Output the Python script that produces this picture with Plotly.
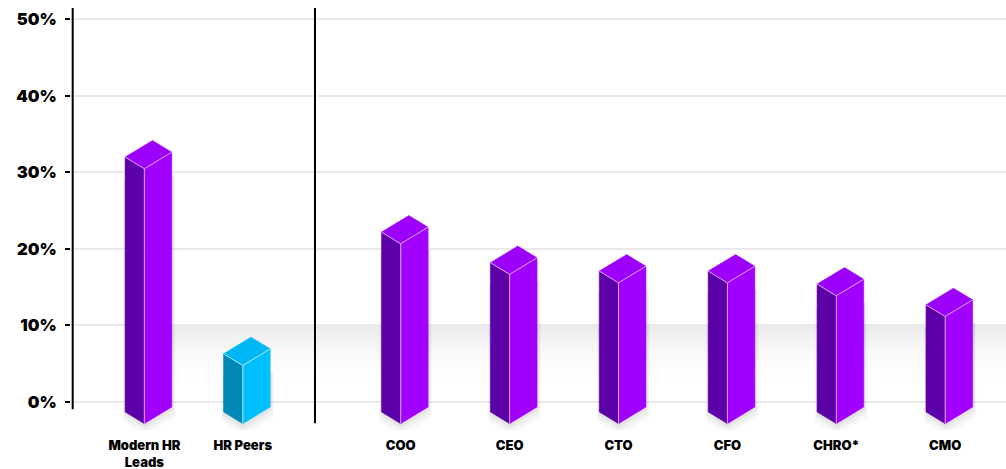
import plotly.graph_objects as go

# ---------------- data ----------------
categories = ["Modern HR<br>Leads", "HR Peers", "COO", "CEO", "CTO", "CFO", "CHRO*", "CMO"]
values = [32.0, 6.3, 22.2, 18.2, 17.1, 17.1, 15.4, 12.7]          # percent
y_ticks = [0, 10, 20, 30, 40, 50]
y_tick_labels = [f"{v}%" for v in y_ticks]

# ---------------- layout constants ----------------
slots = [0.646, 1.55, 3, 4, 5, 6, 7, 8]       # category slot positions on x axis
divider_x = 2.213
series_colors = ["purple", "cyan", "purple", "purple", "purple", "purple", "purple", "purple"]
palette = {
    "purple": dict(right="#A100FF", left="#5C00A8", top="#9D00FA", edge="rgba(225,180,255,0.9)"),
    "cyan": dict(right="#00BFFF", left="#0089B5", top="#00B6F5", edge="rgba(190,240,255,0.9)"),
}
X0, X1 = -0.0275, 8.558
Y0, Y1 = -3.66, 51.47
WL, WR = 0.177, 0.252     # left / right face widths (x units)
DL, DR = 1.53, 2.17       # isometric drops (y units)
BASE = -1.3               # y of the bottom-left corner

fig = go.Figure()

# gradient band under the 10% gridline
fig.add_trace(go.Scatter(
    x=[0.55, X1, X1, 0.55, 0.55], y=[2.0, 2.0, 9.93, 9.93, 2.0],
    mode="lines", line=dict(width=0), fill="toself",
    fillgradient=dict(type="vertical", start=2.0, stop=9.93,
                      colorscale=[[0, "rgba(255,255,255,0)"], [1, "rgba(232,232,232,0.9)"]]),
    hoverinfo="skip", showlegend=False))


def prism(xc, v):
    lt = (xc - WL, v)
    ft = (xc, v - DL)
    rt = (xc + WR, v - DL + DR)
    bt = (xc - WL + WR, v + DR)
    lb = (xc - WL, BASE)
    fb = (xc, BASE - DL)
    rb = (xc + WR, BASE - DL + DR)
    return lt, ft, rt, bt, lb, fb, rb


def poly(points, color, width=0, lcolor=None):
    xs = [p[0] for p in points] + [points[0][0]]
    ys = [p[1] for p in points] + [points[0][1]]
    return go.Scatter(x=xs, y=ys, mode="lines", fill="toself", fillcolor=color,
                      line=dict(width=width, color=lcolor or color),
                      hoverinfo="skip", showlegend=False)


# soft shadows
for xc, v in zip(slots, values):
    lt, ft, rt, bt, lb, fb, rb = prism(xc, v)
    for k, a in [(3, 0.025), (2, 0.035), (1, 0.045)]:
        dx = 0.012 * k
        dy = 0.45 * k
        pts = [(lt[0] - dx * 0.5, lt[1] - 3), (rt[0] + dx, rt[1] - 3), (rb[0] + dx, rb[1] - dy),
               (fb[0] + dx * 0.3, fb[1] - dy * 1.2), (lb[0] - dx * 0.5, lb[1] - dy)]
        fig.add_trace(poly(pts, f"rgba(0,0,0,{a})"))

# prisms
for xc, v, c in zip(slots, values, series_colors):
    col = palette[c]
    lt, ft, rt, bt, lb, fb, rb = prism(xc, v)
    fig.add_trace(poly([lt, ft, fb, lb], col["left"], 0.5, col["left"]))
    fig.add_trace(poly([ft, rt, rb, fb], col["right"], 0.5, col["right"]))
    fig.add_trace(poly([lt, bt, rt, ft], col["top"], 0.5, col["top"]))
    fig.add_trace(go.Scatter(x=[lt[0], ft[0], rt[0]], y=[lt[1], ft[1], rt[1]], mode="lines",
                             line=dict(width=1, color=col["edge"]), hoverinfo="skip", showlegend=False))
    fig.add_trace(go.Scatter(x=[ft[0], fb[0]], y=[ft[1], fb[1]], mode="lines",
                             line=dict(width=1, color=col["edge"]), hoverinfo="skip", showlegend=False))

# y axis line and divider
fig.add_shape(type="line", xref="x", yref="y", x0=-0.012, x1=-0.012, y0=-0.95, y1=Y1,
              line=dict(color="black", width=2), layer="above")
fig.add_shape(type="line", xref="x", yref="y", x0=divider_x, x1=divider_x, y0=-2.78, y1=Y1,
              line=dict(color="black", width=2), layer="above")

font_family = "Inter, Roboto, 'DejaVu Sans', sans-serif"
fig.update_layout(
    width=1006, height=469,
    margin=dict(l=71, r=0, t=8, b=39, autoexpand=False),
    paper_bgcolor="white", plot_bgcolor="white",
    showlegend=False,
    xaxis=dict(range=[X0, X1], tickmode="array", tickvals=slots, ticktext=categories,
               showgrid=False, zeroline=False, showline=False, ticks="",
               automargin=False, ticklabelstandoff=6,
               tickfont=dict(family=font_family, size=13, color="black", weight=900)),
    yaxis=dict(range=[Y0, Y1], tickmode="array", tickvals=y_ticks, ticktext=y_tick_labels,
               showgrid=True, gridcolor="#e9e9e9", gridwidth=1.5, zeroline=False, showline=False,
               ticks="outside", ticklen=5, tickwidth=2, tickcolor="black",
               automargin=False, ticklabelstandoff=5,
               tickfont=dict(family=font_family, size=16.5, color="black", weight=900)),
)

fig.write_html("out.html")
